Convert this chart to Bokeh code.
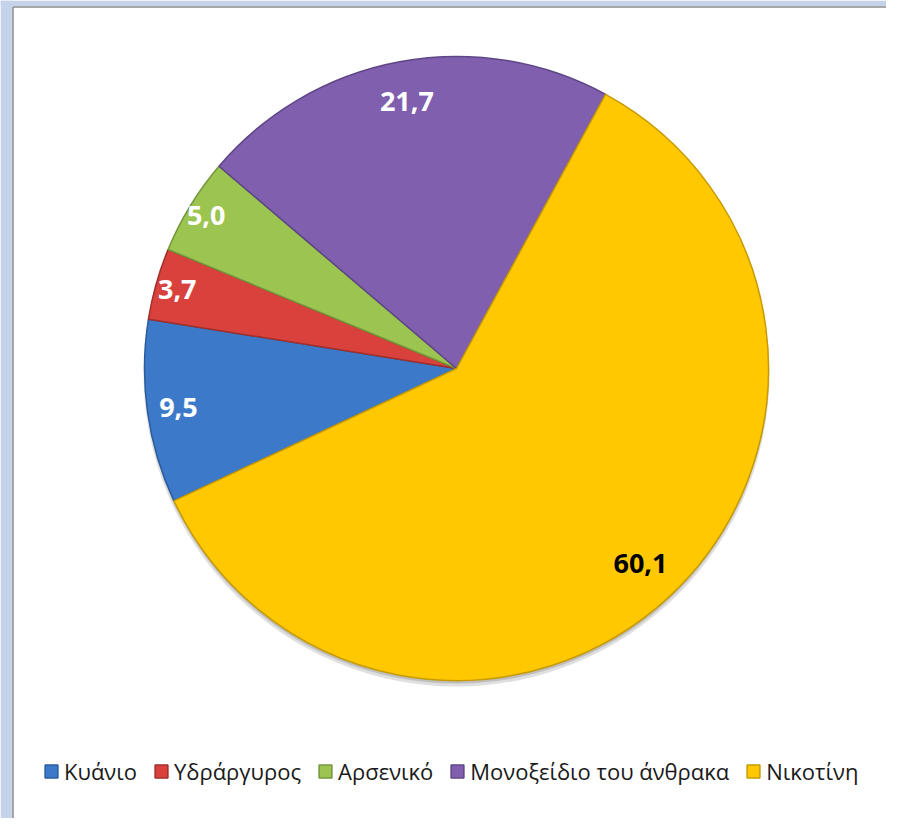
import numpy as np
from bokeh.plotting import figure
from bokeh.models import ColumnDataSource, Legend, LegendItem
from bokeh.core.properties import value
from bokeh.embed import file_html
from bokeh.resources import INLINE

# ---- data ----
categories = ["Κυάνιο", "Υδράργυρος", "Αρσενικό", "Μονοξείδιο του άνθρακα", "Νικοτίνη"]
values = [9.5, 3.7, 5.0, 21.7, 60.1]

# ---- style ----
colors = ["#3C7AC9", "#D8413C", "#9CC451", "#7F5FAE", "#FFC800"]
edge_colors = ["#2A5C9E", "#A02E2A", "#73963A", "#5E4585", "#C79A00"]
label_colors = ["white", "white", "white", "white", "black"]
label_r = [0.90, 0.93, 0.94, 0.87, 0.86]
first_slice_cw_deg = 244.9  # first slice starts here, clockwise from 12 o'clock

W, H = 886, 818
cx, cy, R = 456, H - 368, 312

vals = np.array(values, dtype=float)
frac = vals / vals.sum()
cum = np.concatenate([[0.0], np.cumsum(frac)])
cw_start = first_slice_cw_deg + 360.0 * cum[:-1]
cw_end = first_slice_cw_deg + 360.0 * cum[1:]
start = np.radians(90.0 - cw_start)
end = np.radians(90.0 - cw_end)
mid = (start + end) / 2.0
lr = np.array(label_r) * R
lx = cx + lr * np.cos(mid)
ly = cy + lr * np.sin(mid)
labels = [f"{v:.1f}".replace(".", ",") for v in values]

p = figure(width=W, height=H, x_range=(0, W), y_range=(0, H),
           x_axis_type=None, y_axis_type=None,
           output_backend="svg", toolbar_location=None, min_border=0)
p.grid.visible = False
p.outline_line_color = None
p.background_fill_color = "white"
p.border_fill_color = "white"

# window frame hint (left and top)
p.quad(left=[0], right=[12], bottom=[0], top=[H], fill_color="#C4D3EA", line_color=None)
p.quad(left=[0], right=[W], bottom=[H - 6], top=[H], fill_color="#C4D3EA", line_color=None)
p.segment(x0=[12.5], y0=[0], x1=[12.5], y1=[H - 6.5], line_color="#8C8C8C", line_width=1.5)
p.segment(x0=[12.5], y0=[H - 6.5], x1=[W], y1=[H - 6.5], line_color="#8C8C8C", line_width=1.5)

# soft shadow
p.circle(x=[cx], y=[cy - 5], radius=R + 1, fill_color="#808080", fill_alpha=0.25, line_color=None)
p.circle(x=[cx], y=[cy - 3], radius=R, fill_color="#606060", fill_alpha=0.25, line_color=None)

items = []
for i, cat in enumerate(categories):
    r = p.wedge(x=cx, y=cy, radius=R, start_angle=start[i], end_angle=end[i],
                direction="clock", fill_color=colors[i],
                line_color=edge_colors[i], line_width=1.5)
    items.append(LegendItem(label=cat, renderers=[r]))

src = ColumnDataSource(dict(x=lx, y=ly, t=labels, c=label_colors))
p.text(x="x", y="y", text="t", text_color="c", source=src,
       text_align="center", text_baseline="middle",
       text_font=value("Open Sans"), text_font_style="bold",
       text_font_size="27px")

legend = Legend(items=items, orientation="horizontal", location=(43, 32),
                label_text_font="Open Sans", label_text_font_size="22px",
                label_text_color="#1a1a1a",
                glyph_width=16, glyph_height=16, label_standoff=5, spacing=16,
                padding=0, margin=0, border_line_alpha=0, background_fill_alpha=0)
p.add_layout(legend, "center")

open("out.html", "w").write(file_html(p, INLINE))
